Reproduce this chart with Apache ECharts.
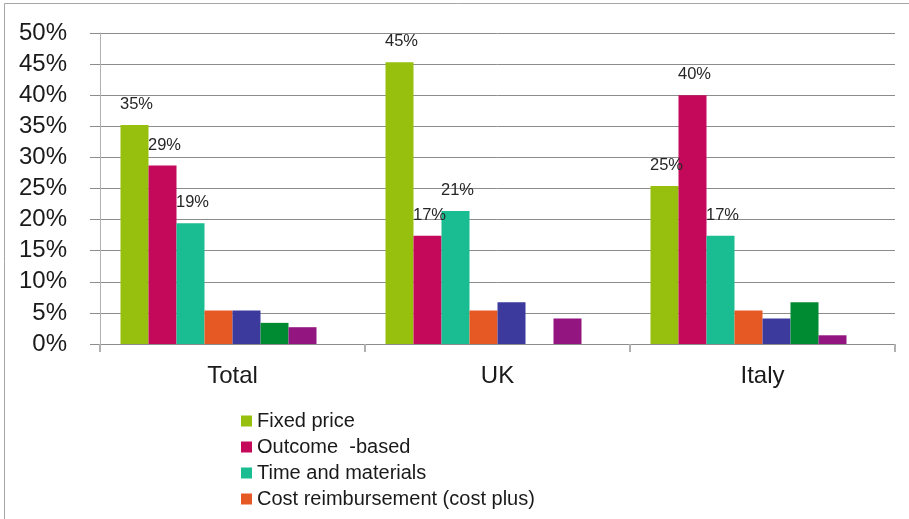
<!DOCTYPE html>
<html>
<head>
<meta charset="utf-8">
<script src="https://cdn.jsdelivr.net/npm/echarts@6/dist/echarts.min.js"></script>
<style>
  html, body { margin: 0; padding: 0; background: #fff; }
  #chart { width: 909px; height: 519px; }
</style>
</head>
<body>
<div id="chart"></div>
<script>
// Contract types by market (share of respondents, %)
const categories = ['Total', 'UK', 'Italy'];

const seriesNames = [
  'Fixed price',
  'Outcome  -based',
  'Time and materials',
  'Cost reimbursement (cost plus)',
  'Risk and reward',
  'Gain share',
  'Hybrid',
  'Other'
];

const fixedPrice      = [35.2, 45.3, 25.4];
const outcomeBased    = [28.7, 17.4, 40.0];
const timeMaterials   = [19.4, 21.4, 17.4];
const costPlus        = [5.4, 5.4, 5.4];
const riskReward      = [5.4, 6.7, 4.1];
const gainShare       = [3.4, 0, 6.7];
const hybrid          = [2.7, 4.1, 1.4];
const other           = [0, 0, 0];

const yTicks = { min: 0, max: 50, step: 5 };

const seriesValues = [fixedPrice, outcomeBased, timeMaterials, costPlus, riskReward, gainShare, hybrid, other];
const seriesColors = ['#97bf0d', '#c4095b', '#1abd91', '#e75924', '#3c3a9d', '#008a32', '#93157f', '#7f7f7f'];
const labelled = [true, true, true, false, false, false, false, false];

const font = 'Liberation Sans, Arial, sans-serif';

const chart = echarts.init(document.getElementById('chart'), null, { renderer: 'canvas' });

const series = seriesValues.map((vals, i) => ({
  name: seriesNames[i],
  type: 'bar',
  data: vals,
  barWidth: 28,
  barGap: '0%',
  itemStyle: { color: seriesColors[i] },
  label: {
    show: labelled[i],
    position: 'top',
    distance: 12,
    offset: [2, 0],
    fontFamily: font,
    fontSize: 16.5,
    color: '#262626',
    formatter: p => Math.round(p.value) + '%'
  },
  emphasis: { disabled: true }
}));

chart.setOption({
  animation: false,
  backgroundColor: '#ffffff',
  graphic: [{
    type: 'rect',
    shape: { x: 4.5, y: 3.5, width: 1000, height: 1000 },
    style: { fill: 'none', stroke: '#a6a6a6', lineWidth: 1 },
    silent: true
  }],
  grid: { left: 100, right: 14, top: 33, bottom: 175, containLabel: false },
  legend: {
    data: seriesNames.slice(0, 4),
    orient: 'vertical',
    left: 241,
    top: 411,
    padding: 0,
    itemWidth: 11,
    itemHeight: 11,
    itemGap: 6,
    icon: 'rect',
    selectedMode: false,
    textStyle: { fontFamily: font, fontSize: 20, color: '#1a1a1a', lineHeight: 20, padding: [0, 0, 0, 0] }
  },
  xAxis: {
    type: 'category',
    data: categories,
    axisLine: { lineStyle: { color: '#8c8c8c', width: 1 } },
    axisTick: { show: true, length: 8, lineStyle: { color: '#b0b0b0', width: 2 } },
    axisLabel: { margin: 20, fontFamily: font, fontSize: 24, color: '#1a1a1a' },
    splitLine: { show: false }
  },
  yAxis: {
    type: 'value',
    min: yTicks.min,
    max: yTicks.max,
    interval: yTicks.step,
    axisLine: { show: true, lineStyle: { color: '#b0b0b0', width: 1 } },
    axisTick: { show: true, length: 10, lineStyle: { color: '#8c8c8c', width: 1 } },
    axisLabel: { margin: 33, fontFamily: font, fontSize: 24, color: '#1a1a1a', formatter: '{value}%' },
    splitLine: { show: true, lineStyle: { color: '#8c8c8c', width: 1 } }
  },
  series: series
});
</script>
</body>
</html>
